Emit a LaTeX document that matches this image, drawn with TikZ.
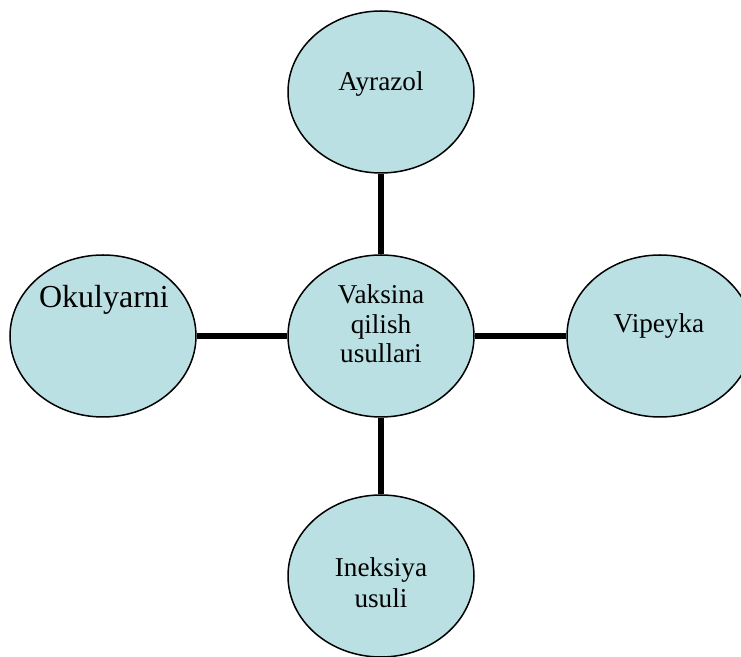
\documentclass[tikz,border=0pt]{standalone}
\usepackage{fontspec}
\setmainfont{Liberation Serif}
\usetikzlibrary{shapes.geometric}

\definecolor{havorang}{RGB}{187,224,227}

\begin{document}
\begin{tikzpicture}[
    x=0.5pt,
    y=-0.5pt,
    oval/.style={draw, ellipse, fill=havorang, line width=0.75pt,
        minimum width=93pt, minimum height=81pt, inner sep=0pt},
    matn/.style={font=\fontsize{13.6}{14.75}\selectfont, align=center,
        anchor=base, inner sep=0pt},
    katta/.style={font=\fontsize{16}{18}\selectfont, anchor=base, inner sep=0pt},
    bog/.style={line width=3pt}
]

\useasboundingbox (0,0) rectangle (741,657);

% Ovallar: nom / x / y
\foreach \nom/\x/\y in {
    markaz/381/336,
    yuqori/381/92,
    chap/103/336,
    ong/660/336,
    past/381/576}
{
    \node[oval] (\nom) at (\x,\y) {};
}

% Yozuvlar (oxirgi qator tayanch chizig'i bo'yicha)
\node[matn] (tmarkaz) at (381,363) {Vaksina\\qilish\\usullari};
\node[matn] (tyuqori) at (381,91) {Ayrazol};
\node[katta] (tchap) at (104,308) {Okulyarni};
\node[matn] (tong) at (659,333) {Vipeyka};
\node[matn, font=\fontsize{13.6}{15.5}\selectfont] (tpast) at (381,608) {Ineksiya\\usuli};

% Chiziqlar
\foreach \nom in {yuqori, chap, ong, past}
    \draw[bog] (markaz) -- (\nom);

\end{tikzpicture}
\end{document}
